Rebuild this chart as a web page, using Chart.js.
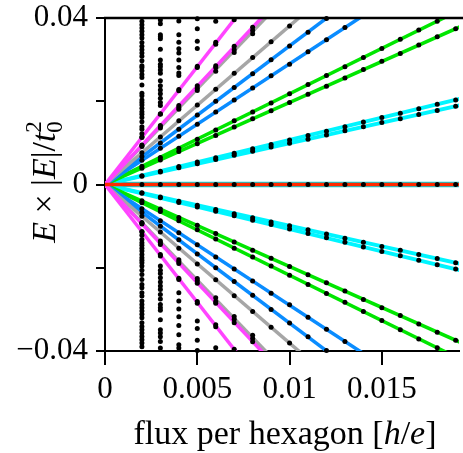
<!DOCTYPE html>
<html>
<head>
<meta charset="utf-8">
<script src="https://cdn.jsdelivr.net/npm/chart.js@4.4.1/dist/chart.umd.min.js"></script>
<style>
  html, body { margin: 0; padding: 0; background: #fff; }
  #wrap { width: 463px; height: 453px; }
</style>
</head>
<body>
<div id="wrap"><canvas id="chart" width="463" height="453"></canvas></div>
<script>
'use strict';

// flux in units of 1e-3 h/e, energies E*|E|/t0^2 in units of 1e-3
var xTicks = [0, 5, 10, 15];
var xTickLabels = ['0', '0.005', '0.01', '0.015'];
var yTicks = [-40, -20, 0, 20, 40];
var yTickLabels = ['\u22120.04', '', '0', '', '0.04'];

// analytic levels: straight lines from the origin, value reached at lineFluxEnd
var lineFluxEnd = 20;
var cyanEnds = [19.8, 21.4, -19.8, -21.4];
var greenEnds = [39.4, 43.6, -39.4, -43.6];
var blueEnds = [58.0, 66.6, -58.0, -66.6];
var grayEnds = [76.2, 92.0, -76.2, -92.0];
var magentaEnds = [94.4, 113.2, -94.4, -113.2];
var zeroEnds = [0];

// numerical spectrum, one column of dots per flux value
var dotFlux = [2, 3, 4, 5, 6, 7, 8, 9, 10, 11, 12, 13, 14, 15, 16, 17, 18, 19];
var dotValues = [
  [39.2, 38.4, 37.6, 36.8, 36.0, 35.2, 34.1, 33.2, 32.4, 31.6, 30.8, 29.7, 28.5, 28.1, 27.3, 26.4, 25.7, 23.9, 21.9, 21.3,
   20.3, 19.7, 19.1, 18.3, 17.5, 16.9, 16.1, 15.1, 13.9, 13.3, 12.2, 11.4, 11.3, 9.5, 9.3, 9.1, 7.6, 6.7, 5.8, 4.4, 3.9,
   2.1, 2.0, 0, -2.0, -2.1, -3.9, -4.4, -5.8, -6.7, -7.6, -9.1, -9.3, -9.5, -11.3, -11.4, -12.2, -13.2, -14.0, -14.6,
   -15.3, -16.0, -16.8, -17.6, -18.2, -18.8, -19.6, -20.6, -21.6, -22.8, -24.0, -24.8, -26.0, -26.8, -28.0, -28.8,
   -29.6, -30.4, -31.2, -32.0, -33.2, -34.1, -34.9, -35.7, -36.5, -37.3, -38.1, -39.0],
  [39.5, 38.6, 36.0, 35.5, 35.0, 32.5, 29.9, 28.9, 28.3, 27.5, 26.7, 24.9, 23.7, 22.7, 21.8, 20.7, 19.7, 19.0, 17.0, 16.9,
   14.2, 13.9, 13.6, 11.4, 10.0, 8.7, 6.5, 5.9, 3.2, 3.0, 0, -3.0, -3.2, -5.9, -6.5, -8.7, -10.0, -11.4, -13.6, -14.0,
   -14.4, -16.8, -17.2, -19.6, -20.6, -21.4, -22.4, -23.4, -24.4, -25.2, -26.4, -27.5, -28.8, -29.6, -30.2, -32.5,
   -34.9, -35.7, -36.6, -37.7, -39.3],
  [39.3, 36.0, 34.2, 32.6, 31.6, 29.9, 28.1, 26.8, 26.2, 22.8, 22.5, 19.0, 18.5, 18.1, 15.3, 13.3, 11.6, 8.7, 7.9, 4.3,
   4.0, 0, -4.0, -4.3, -7.9, -8.7, -11.6, -13.3, -15.3, -18.1, -18.5, -19.0, -22.5, -22.8, -26.0, -28.0, -29.9, -31.8,
   -33.9, -36.1, -38.5, -39.3],
  [39.8, 37.4, 34.4, 32.7, 28.4, 28.1, 23.7, 23.1, 22.6, 19.1, 16.7, 14.5, 10.9, 9.8, 5.4, 5.0, 0, -5.0, -5.4, -9.8,
   -10.9, -14.5, -16.7, -19.1, -22.6, -23.1, -23.7, -28.1, -28.5, -32.8, -34.6, -37.4, -39.9],
  [39.2, 34.2, 33.7, 28.5, 28.1, 27.2, 22.9, 20.0, 17.4, 13.1, 11.8, 6.4, 6.0, 0, -6.0, -6.4, -11.8, -13.1, -17.4, -20.0,
   -22.9, -27.2, -28.1, -28.5, -33.7, -34.2, -39.2],
  [39.6, 33.2, 32.4, 31.7, 26.7, 23.3, 20.3, 15.3, 13.8, 7.5, 7.0, 0, -7.0, -7.5, -13.8, -15.3, -20.3, -23.3, -26.7,
   -31.7, -32.4, -33.2, -39.6],
  [37.8, 37.0, 36.2, 30.5, 26.6, 23.2, 17.4, 15.8, 8.6, 8.0, 0, -8.0, -8.6, -15.8, -17.4, -23.2, -26.6, -30.5, -36.2,
   -37.0, -37.8],
  [34.3, 30.0, 26.1, 19.6, 17.7, 9.6, 9.0, 0, -9.0, -9.6, -17.7, -19.6, -26.1, -30.0, -34.3],
  [38.1, 33.3, 28.9, 21.8, 19.7, 10.7, 9.9, 0, -9.9, -10.7, -19.7, -21.8, -28.9, -33.3, -38.1],
  [36.6, 31.9, 24.0, 21.7, 11.8, 10.9, 0, -10.9, -11.8, -21.7, -24.0, -31.9, -36.6],
  [39.9, 34.8, 26.2, 23.6, 12.8, 11.9, 0, -11.9, -12.8, -23.6, -26.2, -34.8, -39.9],
  [37.7, 28.3, 25.6, 13.9, 12.9, 0, -12.9, -13.9, -25.6, -28.3, -37.7],
  [30.5, 27.6, 15.0, 13.9, 0, -13.9, -15.0, -27.6, -30.5],
  [32.7, 29.6, 16.1, 14.9, 0, -14.9, -16.1, -29.6, -32.7],
  [34.9, 31.5, 17.1, 15.8, 0, -15.8, -17.1, -31.5, -34.9],
  [37.1, 33.5, 18.2, 16.8, 0, -16.8, -18.2, -33.5, -37.1],
  [39.2, 35.5, 19.3, 17.8, 0, -17.8, -19.3, -35.5, -39.2],
  [37.4, 20.3, 18.8, 0, -18.8, -20.3, -37.4]
];

var serif = '"Liberation Serif", "DejaVu Serif", serif';

// first entry ends up on top
var lineStyles = [
  { ends: zeroEnds, color: '#ff2a00', width: 3.5 },
  { ends: magentaEnds, color: '#ff44ff', width: 3.5 },
  { ends: grayEnds, color: '#a6a6a6', width: 3.5 },
  { ends: blueEnds, color: '#0a8cff', width: 3.5 },
  { ends: greenEnds, color: '#00e600', width: 3.5 },
  { ends: cyanEnds, color: '#00f5ff', width: 3.8 },
  { ends: zeroEnds, color: '#00d8e0', width: 5.5 }
];

var dotPoints = [];
dotFlux.forEach(function (f, i) {
  dotValues[i].forEach(function (v) { dotPoints.push({ x: f, y: v }); });
});

var datasets = [{
  data: dotPoints,
  showLine: false,
  pointRadius: 2.5,
  pointBackgroundColor: '#000',
  pointBorderWidth: 0,
  clip: false
}];

lineStyles.forEach(function (s) {
  s.ends.forEach(function (e) {
    datasets.push({
      data: [{ x: 0, y: 0 }, { x: lineFluxEnd, y: e }],
      showLine: true,
      borderColor: s.color,
      borderWidth: s.width,
      pointRadius: 0,
      clip: 0
    });
  });
});

// draws a row of text pieces with different fonts, centred on x
function drawRuns(ctx, runs, x, y) {
  var total = 0;
  runs.forEach(function (r) {
    ctx.font = r.font;
    r.w = ctx.measureText(r.t).width;
    if (!r.stack) total += r.w;
  });
  var cx = x - total / 2, prevX = cx;
  runs.forEach(function (r) {
    ctx.font = r.font;
    if (r.stack) {
      ctx.fillText(r.t, prevX, y + (r.dy || 0));
    } else {
      prevX = cx;
      ctx.fillText(r.t, cx, y + (r.dy || 0));
      cx += r.w;
    }
  });
}

var framePlugin = {
  id: 'frame',
  afterDraw: function (chart) {
    var ctx = chart.ctx, a = chart.chartArea;
    var up = '34px ' + serif, it = 'italic 34px ' + serif, small = '23px ' + serif;
    ctx.save();
    ctx.strokeStyle = '#000';
    ctx.lineWidth = 2.5;
    ctx.beginPath();
    ctx.moveTo(a.left - 1, a.top);
    ctx.lineTo(chart.width, a.top);
    ctx.stroke();

    ctx.fillStyle = '#000';
    ctx.textBaseline = 'alphabetic';
    ctx.textAlign = 'left';
    drawRuns(ctx, [
      { t: 'flux per hexagon [', font: up },
      { t: 'h', font: it },
      { t: '/', font: up },
      { t: 'e', font: it },
      { t: ']', font: up }
    ], (a.left + a.right) / 2 + 3, 444);

    ctx.translate(55, 182);
    ctx.rotate(-Math.PI / 2);
    drawRuns(ctx, [
      { t: 'E', font: it },
      { t: ' \u00d7 |', font: up },
      { t: 'E', font: it },
      { t: '|/', font: up },
      { t: 't', font: it },
      { t: '0', font: small, dy: 7 },
      { t: '2', font: small, dy: -14, stack: true }
    ], 0, 0);
    ctx.restore();
  }
};

new Chart(document.getElementById('chart'), {
  type: 'scatter',
  data: { datasets: datasets },
  options: {
    responsive: false,
    animation: false,
    devicePixelRatio: 1,
    events: [],
    layout: { padding: { top: 18, right: 0, bottom: 0, left: 0 } },
    plugins: { legend: { display: false }, tooltip: { enabled: false } },
    scales: {
      x: {
        type: 'linear',
        min: 0,
        max: 19.18,
        afterBuildTicks: function (s) { s.ticks = xTicks.map(function (v) { return { value: v }; }); },
        afterFit: function (s) { s.height = 102; s.paddingLeft = 0; s.paddingRight = 0; },
        grid: { drawOnChartArea: false, color: '#000', lineWidth: 2, tickLength: 14 },
        border: { color: '#000', width: 2 },
        ticks: {
          color: '#000',
          font: { family: serif, size: 31 },
          padding: 6,
          maxRotation: 0,
          autoSkip: false,
          callback: function (v) { return xTickLabels[xTicks.indexOf(v)]; }
        }
      },
      y: {
        type: 'linear',
        min: -40,
        max: 40,
        afterBuildTicks: function (s) { s.ticks = yTicks.map(function (v) { return { value: v }; }); },
        afterFit: function (s) { s.width = 105; s.paddingTop = 0; s.paddingBottom = 0; },
        grid: { drawOnChartArea: false, color: '#000', lineWidth: 2, tickLength: 9 },
        border: { color: '#000', width: 2 },
        ticks: {
          color: '#000',
          font: { family: serif, size: 31 },
          padding: 8,
          autoSkip: false,
          callback: function (v) { return yTickLabels[yTicks.indexOf(v)]; }
        }
      }
    }
  },
  plugins: [framePlugin]
});
</script>
</body>
</html>
